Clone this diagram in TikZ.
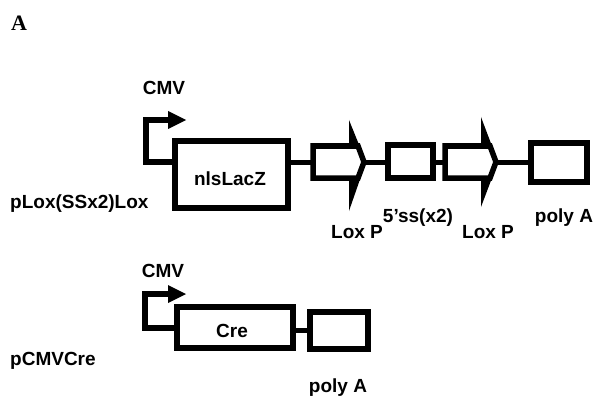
\documentclass[tikz,border=0pt]{standalone}
\usepackage{fontspec}
\setmainfont{Liberation Sans}
\newfontfamily\serifA{Liberation Serif}
\usetikzlibrary{calc,backgrounds}
\begin{document}
\begin{tikzpicture}[x=1pt,y=-1pt,
  lab/.style={font=\fontsize{19}{21}\selectfont\bfseries, inner sep=0pt, anchor=base},
  gene/.style={draw, line width=5.5pt, fill=white, inner sep=0pt, rectangle},
  conn/.style={line width=5pt},
  prom/.style={line width=5.5pt, line join=miter}
]
\useasboundingbox (0,0) rectangle (601,398);

% panel letter
\node[lab, font=\fontsize{22}{24}\serifA\bfseries, anchor=base west] (letterA) at (11,31) {A};

% ---------- construct 1 ----------
\node[lab] (cmv1) at (164,95) {CMV};
\node[lab, anchor=base west] (name1) at (10,208) {pLox(SSx2)Lox};
\node[gene, minimum width=113pt, minimum height=67pt] (lacz) at (231.5,174.5) {};
\node[lab] (lacztxt) at (230,185) {nlsLacZ};

\coordinate (p1base) at (146,162);
\coordinate (p1top) at (146,120);
\coordinate (p1head) at (168,120);
\draw[prom] (p1base -| lacz.west) -- (p1base) -- (p1top) -- (p1head);
\fill (168,111) -- (186,120) -- (168,129) -- cycle;

\coordinate (lox1) at (313,162);
\node[gene, minimum width=45pt, minimum height=33pt] (ssbox) at (410.5,161.5) {};
\coordinate (lox2) at (445,162);
\node[gene, minimum width=56pt, minimum height=39pt] (pa1) at (559,162.5) {};

% LoxP arrows
\foreach \c/\tp/\bt in {lox1/-42/49, lox2/-45/45}{
  \begin{scope}[shift={(\c)}]
    \fill (36,-16) -- (36,\tp) -- (53,0) -- (36,\bt) -- (36,16) -- cycle;
    \draw[line width=5.5pt, line join=miter, fill=white]
      (0,-16) -- (45,-16) -- (51,0) -- (45,16) -- (0,16) -- cycle;
  \end{scope}
}
\coordinate (lox1tip) at ($(lox1)+(53,0)$);
\coordinate (lox2tip) at ($(lox2)+(53,0)$);

\node[lab] (loxl1) at (357,238) {Lox P};
\node[lab] (ssl) at (418,222) {5’ss(x2)};
\node[lab] (loxl2) at (488,238) {Lox P};
\node[lab] (pal1) at (564,222) {poly A};

% ---------- construct 2 ----------
\node[lab] (cmv2) at (163,277) {CMV};
\node[lab, anchor=base west] (name2) at (10,365) {pCMVCre};
\node[gene, minimum width=116pt, minimum height=41pt] (cre) at (235,327.5) {};
\node[lab] (cretxt) at (232,337) {Cre};
\node[gene, minimum width=58pt, minimum height=37pt] (pa2) at (339,330.5) {};
\node[lab] (pal2) at (338,392) {poly A};

\coordinate (p2base) at (145,328);
\coordinate (p2top) at (145,294);
\coordinate (p2head) at (168,294);
\draw[prom] (p2base -| cre.west) -- (p2base) -- (p2top) -- (p2head);
\fill (168,285) -- (186,294) -- (168,303) -- cycle;

% connectors
\begin{scope}[on background layer]
  \draw[conn] (lox1 -| lacz.east) -- (lox1);
  \draw[conn] (lox1tip) -- (lox1tip -| ssbox.west);
  \draw[conn] (lox2 -| ssbox.east) -- (lox2);
  \draw[conn] (lox2tip) -- (lox2tip -| pa1.west);
  \draw[conn] (cre.east |- 0,330) -- (pa2.west |- 0,330);
\end{scope}
\end{tikzpicture}
\end{document}
